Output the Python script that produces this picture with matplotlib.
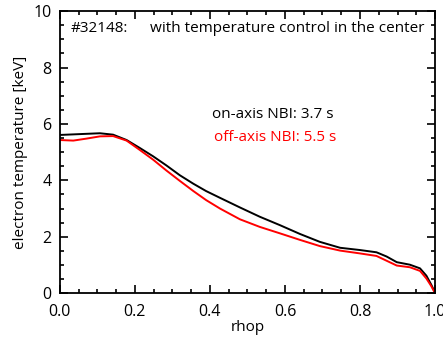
import numpy as np
import matplotlib
matplotlib.use('Agg')
import matplotlib.pyplot as plt
from matplotlib.ticker import MultipleLocator

# profiles (rhop, Te in keV)
rho_on = [0.0, 0.036, 0.071, 0.107, 0.142, 0.178, 0.213, 0.249, 0.284, 0.32, 0.356,
          0.39, 0.427, 0.48, 0.533, 0.587, 0.64, 0.693, 0.747, 0.8, 0.844, 0.871,
          0.898, 0.933, 0.96, 0.977, 0.99, 1.0]
te_on = [5.61, 5.63, 5.65, 5.67, 5.62, 5.43, 5.15, 4.85, 4.53, 4.18, 3.88,
         3.62, 3.38, 3.04, 2.71, 2.41, 2.1, 1.82, 1.61, 1.53, 1.45, 1.3,
         1.1, 1.01, 0.88, 0.62, 0.3, 0.02]

rho_off = [0.0, 0.036, 0.071, 0.107, 0.142, 0.178, 0.213, 0.249, 0.284, 0.32, 0.356,
           0.39, 0.427, 0.48, 0.533, 0.587, 0.64, 0.693, 0.747, 0.8, 0.844, 0.871,
           0.898, 0.933, 0.96, 0.977, 0.99, 1.0]
te_off = [5.43, 5.41, 5.48, 5.56, 5.57, 5.41, 5.08, 4.73, 4.35, 3.98, 3.62,
          3.3, 3.0, 2.62, 2.35, 2.12, 1.89, 1.67, 1.51, 1.41, 1.32, 1.15,
          0.98, 0.92, 0.79, 0.52, 0.25, 0.0]

plt.rcParams['font.family'] = ['Open Sans', 'DejaVu Sans']

fig = plt.figure(figsize=(4.43, 3.37), dpi=100)
ax = fig.add_axes([0.135, 0.13, 0.847, 0.837])

ax.plot(rho_on, te_on, color='black', lw=1.4)
ax.plot(rho_off, te_off, color='red', lw=1.4)

ax.set_xlim(0, 1)
ax.set_ylim(0, 10)
ax.xaxis.set_minor_locator(MultipleLocator(0.05))
ax.yaxis.set_major_locator(MultipleLocator(2))
ax.yaxis.set_minor_locator(MultipleLocator(0.5))
ax.set_xticks([0, 0.2, 0.4, 0.6, 0.8, 1.0])
ax.set_xticklabels(['0.0', '0.2', '0.4', '0.6', '0.8', '1.0'])
ax.tick_params(which='both', direction='in', top=True, right=True, labelsize=11.5, width=1.2)
ax.tick_params(which='major', length=6, pad=6)
ax.tick_params(axis='x', which='major', pad=8)
ax.tick_params(which='minor', length=3)
for s in ax.spines.values():
    s.set_linewidth(1.3)

ax.set_xlabel('rhop', fontsize=11, labelpad=0)
ax.set_ylabel('electron temperature [keV]', fontsize=11, labelpad=4)

ax.text(0.03, 0.965, '#32148:', transform=ax.transAxes, fontsize=11, va='top')
ax.text(0.24, 0.965, 'with temperature control in the center', transform=ax.transAxes,
        fontsize=11, va='top')
ax.text(0.405, 0.633, 'on-axis NBI: 3.7 s', transform=ax.transAxes, fontsize=11,
        va='center', color='black')
ax.text(0.41, 0.553, 'off-axis NBI: 5.5 s', transform=ax.transAxes, fontsize=11,
        va='center', color='red')

fig.savefig('out.png', dpi=100)
